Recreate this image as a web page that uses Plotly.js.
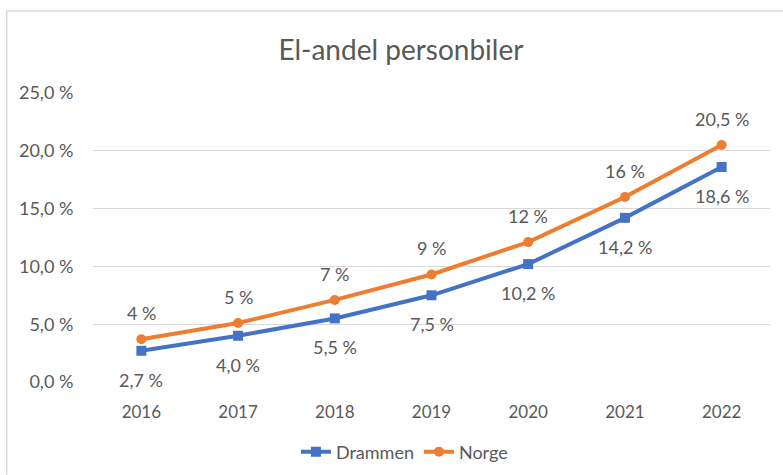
<!DOCTYPE html>
<html>
<head>
<meta charset="utf-8">
<script src="https://cdn.plot.ly/plotly-3.0.1.min.js"></script>
<style>html,body{margin:0;padding:0;background:#fff;}#chart{width:783px;height:475px;}</style>
</head>
<body>
<div id="chart"></div>
<script>
const years = ["2016", "2017", "2018", "2019", "2020", "2021", "2022"];
const drammen = [2.7, 4.0, 5.5, 7.5, 10.2, 14.2, 18.6];
const norge = [3.7, 5.1, 7.1, 9.3, 12.1, 16.0, 20.5];
const drammenLabels = ["2,7 %", "4,0 %", "5,5 %", "7,5 %", "10,2 %", "14,2 %", "18,6 %"];
const norgeLabels = ["4 %", "5 %", "7 %", "9 %", "12 %", "16 %", "20,5 %"];
const yTicks = [0, 5, 10, 15, 20, 25];
const yTickLabels = ["0,0 %", "5,0 %", "10,0 %", "15,0 %", "20,0 %", "25,0 %"];

const blue = "#4472C4", orange = "#ED7D31", grey = "#595959";
const fontFam = "Lato, 'Open Sans', sans-serif";
const fs = 18;

const traces = [
  {x: years, y: drammen, name: "Drammen", type: "scatter", mode: "lines+markers",
   line: {color: blue, width: 4}, marker: {symbol: "square", size: 10, color: blue}},
  {x: years, y: norge, name: "Norge", type: "scatter", mode: "lines+markers",
   line: {color: orange, width: 4}, marker: {symbol: "circle", size: 10, color: orange}}
];

const annotations = [];
years.forEach((yr, i) => {
  annotations.push({x: i, y: norge[i], xref: "x", yref: "y", text: norgeLabels[i],
    showarrow: false, yshift: 26, font: {family: fontFam, size: fs, color: grey}});
  annotations.push({x: i, y: drammen[i], xref: "x", yref: "y", text: drammenLabels[i],
    showarrow: false, yshift: -29, font: {family: fontFam, size: fs, color: grey}});
});

const layout = {
  width: 783, height: 475,
  margin: {l: 93, r: 13, t: 93, b: 93, autoexpand: false},
  paper_bgcolor: "#fff", plot_bgcolor: "#fff",
  font: {family: fontFam, size: fs, color: grey},
  title: {text: "El-andel personbiler", x: 0.512, xanchor: "center", y: 0.895, yanchor: "middle",
          font: {family: fontFam, size: 28, color: grey}},
  xaxis: {type: "category", range: [-0.5, 6.5], showgrid: false, zeroline: false, showline: false,
          automargin: false,
          ticks: "outside", ticklen: 15, tickcolor: "rgba(0,0,0,0)", tickfont: {size: 17, color: grey}},
  yaxis: {range: [0, 25], tickmode: "array", tickvals: yTicks, ticktext: yTickLabels,
          automargin: false,
          showgrid: true, gridcolor: "#d9d9d9", gridwidth: 1, zeroline: false, showline: false,
          ticks: "outside", ticklen: 15, tickcolor: "rgba(0,0,0,0)", tickfont: {size: fs, color: grey}},
  showlegend: true,
  legend: {orientation: "h", x: 0.46, xanchor: "center", y: -0.242, yanchor: "middle",
           font: {size: fs, color: grey}, traceorder: "normal"},
  annotations: annotations,
  shapes: [
    {type: "line", xref: "paper", yref: "paper", x0: -0.1275, x1: -0.1275, y0: -0.32, y1: 1.284,
     line: {color: "#d9d9d9", width: 1.5}},
    {type: "line", xref: "paper", yref: "paper", x0: -0.1275, x1: 1.02, y0: 1.284, y1: 1.284,
     line: {color: "#d9d9d9", width: 1.5}}
  ]
};

Plotly.newPlot("chart", traces, layout, {displayModeBar: false, staticPlot: true});
</script>
</body>
</html>
